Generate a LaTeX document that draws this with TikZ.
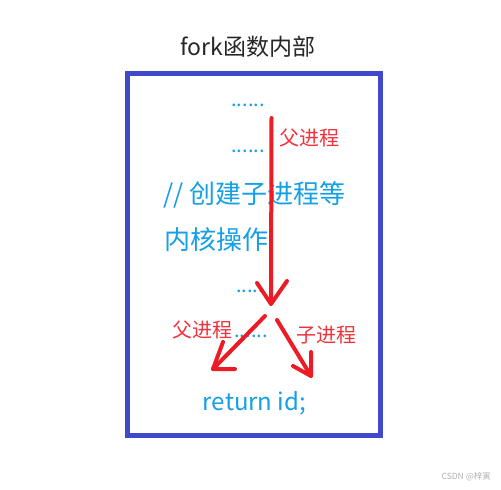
\documentclass[tikz,border=0pt]{standalone}
\usepackage{fontspec}
\setmainfont{Noto Sans CJK SC}
\usetikzlibrary{arrows.meta}
\definecolor{boxblue}{RGB}{64,72,204}
\definecolor{codecyan}{RGB}{20,160,230}
\definecolor{arrred}{RGB}{237,28,36}
\definecolor{lblred}{RGB}{240,50,60}
\tikzset{
  code/.style={text=codecyan, font=\fontsize{26}{26}\selectfont, inner sep=0pt},
  dots/.style={text=codecyan, font=\fontsize{20}{20}\selectfont, inner sep=0pt},
  lbl/.style={text=lblred, font=\fontsize{20}{20}\selectfont, inner sep=0pt},
  redline/.style={draw=arrred, line width=4pt, line cap=round, line join=round},
}
\begin{document}
\begin{tikzpicture}[x=1pt,y=-1pt]
\useasboundingbox[fill=white] (0,0) rectangle (501,490);
\node[font=\fontsize{23}{23}\selectfont, text=black!85, inner sep=0pt] (title) at (248,47) {fork函数内部};
\draw[boxblue, line width=5pt] (127.5,73.5) rectangle (380.5,435.5);
\node[dots, anchor=base] (d1) at (248,106) {......};
\node[dots, anchor=base] (d2) at (248,152) {......};
\node[code, anchor=west] (c1) at (163,195) {// 创建子进程等};
\node[code, anchor=west] (c2) at (164,240) {内核操作};
\node[dots, anchor=base] (d3) at (250,292) {.....};
\node[dots, anchor=base] (d4) at (251,337) {......};
\node[code, font=\fontsize{24}{24}\selectfont] (ret) at (254.5,403) {return id;};
\node[lbl, anchor=west] (l1) at (279,138) {父进程};
\node[lbl, anchor=west] (l2) at (172,330) {父进程};
\node[lbl, anchor=west] (l3) at (296,335) {子进程};
% main arrow
\coordinate (s0) at (271.5,118);
\coordinate (t0) at (271,304);
\coordinate (a0) at (257,283);
\coordinate (b0) at (287,281);
\draw[redline] (s0) -- (t0);
\draw[redline] (a0) -- (t0) -- (b0);
% left arrow
\coordinate (s1) at (265,316);
\coordinate (t1) at (213,369);
\coordinate (a1) at (223,342);
\coordinate (b1) at (235,369);
\draw[redline] (s1) -- (t1);
\draw[redline] (a1) -- (t1) -- (b1);
% right arrow
\coordinate (s2) at (277,320);
\coordinate (t2) at (311,376);
\coordinate (a2) at (293,366);
\coordinate (b2) at (311,352);
\draw[redline] (s2) -- (t2);
\draw[redline] (a2) -- (t2) -- (b2);
\node[text=black!30, font=\fontsize{8.5}{8.5}\selectfont, anchor=east, inner sep=0pt] (wm) at (491,477) {CSDN @梓寅};
\end{tikzpicture}
\end{document}
